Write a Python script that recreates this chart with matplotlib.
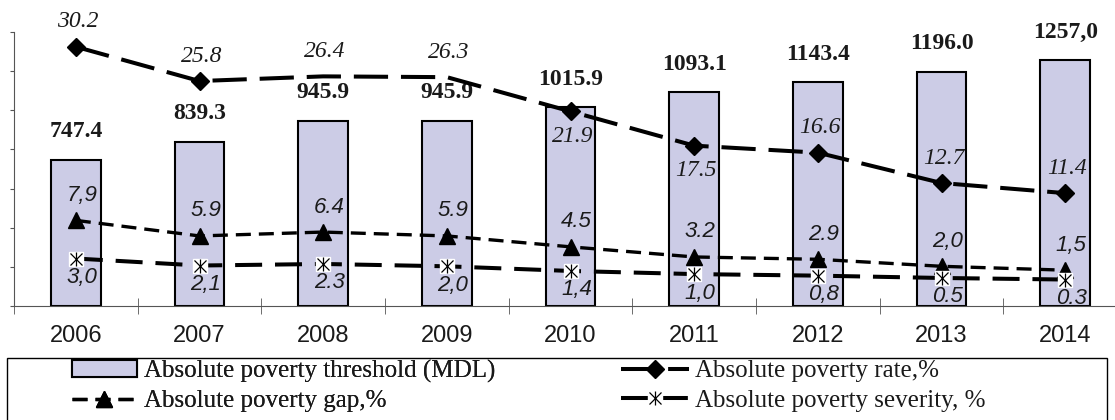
import matplotlib
matplotlib.use("Agg")
import matplotlib.pyplot as plt
from matplotlib.patches import Rectangle
from matplotlib.legend_handler import HandlerTuple

# Datos
years = ['2006', '2007', '2008', '2009', '2010', '2011', '2012', '2013', '2014']
threshold = [747.4, 839.3, 945.9, 945.9, 1015.9, 1093.1, 1143.4, 1196.0, 1257.0]
threshold_labels = ['747.4', '839.3', '945.9', '945.9', '1015.9', '1093.1', '1143.4', '1196.0', '1257,0']
rate = [30.2, 25.8, 26.4, 26.3, 21.9, 17.5, 16.6, 12.7, 11.4]
rate_labels = ['30.2', '25.8', '26.4', '26.3', '21.9', '17.5', '16.6', '12.7', '11.4']
gap = [7.9, 5.9, 6.4, 5.9, 4.5, 3.2, 2.9, 2.0, 1.5]
gap_labels = ['7,9', '5.9', '6.4', '5.9', '4.5', '3.2', '2.9', '2,0', '1,5']
severity = [3.0, 2.1, 2.3, 2.0, 1.4, 1.0, 0.8, 0.5, 0.3]
severity_labels = ['3,0', '2,1', '2.3', '2,0', '1,4', '1,0', '0,8', '0.5', '0.3']
rate_below = [False, False, False, False, True, True, False, False, False]

W, H = 1115, 420
serif = 'Liberation Serif'
sans = 'Liberation Sans'
txt = '#1a1a1a'

fig = plt.figure(figsize=(W / 100, H / 100), dpi=100)
ax = fig.add_axes([14 / W, 114 / H, (1127 - 14) / W, (306 - 32) / H])
x = list(range(len(years)))

# Barras (eje izquierdo)
bars = ax.bar(x, threshold, width=0.4, color='#CCCCE6', edgecolor='black', linewidth=1.5, zorder=2)
ax.set_ylim(0, 1400)
ax.set_xlim(-0.5, len(years) - 0.5)
ax.set_yticks(range(0, 1401, 200))
ax.tick_params(axis='y', length=3, direction='out', labelleft=False, color='#555555')
ax.set_xticks(x)
ax.set_xticklabels(years, fontfamily=sans, fontsize=17, color=txt)
ax.set_xticks([i - 0.5 for i in range(len(years) + 1)], minor=True)
ax.tick_params(axis='x', which='major', length=0, pad=14)
ax.tick_params(axis='x', which='minor', length=12, direction='inout', color='#555555')
for s in ['top', 'right']:
    ax.spines[s].set_visible(False)
ax.spines['left'].set_color('#555555')
ax.spines['bottom'].set_color('#555555')

for xi, v, lab in zip(x, threshold, threshold_labels):
    ax.annotate(lab, (xi, v), xytext=(0, 28), textcoords='offset pixels', ha='center', va='center',
                fontfamily=serif, fontweight='bold', fontsize=17, color=txt)

# Lineas (eje secundario)
ax2 = ax.twinx()
ax2.set_ylim(-3.1, 32.1)
ax2.set_yticks([])
for s in ax2.spines.values():
    s.set_visible(False)

l_rate, = ax2.plot(x, rate, color='black', lw=2.9, linestyle=(0, (8.5, 3.2)), marker='D', markersize=9,
                   markevery=[0, 1, 4, 5, 6, 7, 8], zorder=3)
l_gap, = ax2.plot(x, gap, color='black', lw=2.4, linestyle=(0, (4.5, 2.4)), marker='^', markersize=11, zorder=3)
l_sev, = ax2.plot(x, severity, color='black', lw=2.9, linestyle=(0, (6.7, 3.2)), zorder=3)
m_sq, = ax2.plot(x, severity, linestyle='none', marker='s', markersize=10, markerfacecolor='white',
                 markeredgecolor='white', zorder=4)
m_v, = ax2.plot(x, severity, linestyle='none', marker='|', markersize=10, markeredgewidth=0.9,
                color='black', zorder=5)
m_x, = ax2.plot(x, severity, linestyle='none', marker='x', markersize=8, markeredgewidth=0.9,
                color='black', zorder=5)

for xi, v, lab, below in zip(x, rate, rate_labels, rate_below):
    dy = -25 if below else 25
    ax2.annotate(lab, (xi, v), xytext=(2, dy), textcoords='offset pixels', ha='center', va='center',
                 fontfamily=serif, fontstyle='italic', fontsize=17, color=txt)
for xi, v, lab in zip(x, gap, gap_labels):
    ax2.annotate(lab, (xi, v), xytext=(6, 25), textcoords='offset pixels', ha='center', va='center',
                 fontfamily=sans, fontstyle='italic', fontsize=16, color=txt)
for xi, v, lab in zip(x, severity, severity_labels):
    ax2.annotate(lab, (xi, v), xytext=(6, -19), textcoords='offset pixels', ha='center', va='center',
                 fontfamily=sans, fontstyle='italic', fontsize=16, color=txt)

# Leyenda
fig.patches.append(Rectangle((7 / W, -0.05), 1100 / W, (420 - 358) / H + 0.05, transform=fig.transFigure,
                             fill=False, edgecolor='black', linewidth=1))
leg_kw = dict(frameon=False, loc='center left', prop={'family': serif, 'size': 18},
              labelspacing=0.29, borderpad=0, labelcolor=txt)
leg1 = fig.legend([bars, l_gap], ['Absolute poverty threshold (MDL)', 'Absolute poverty gap,%'],
                  bbox_to_anchor=(59 / W, (420 - 386) / H), handlelength=2.6, handletextpad=0.32, **leg_kw)
fig.add_artist(leg1)
fig.legend([l_rate, (l_sev, m_sq, m_v, m_x)], ['Absolute poverty rate,%', 'Absolute poverty severity, %'],
           bbox_to_anchor=(608 / W, (420 - 386) / H), handlelength=2.75, handletextpad=0.22,
           handler_map={tuple: HandlerTuple(ndivide=1)}, **leg_kw)

plt.savefig('out.png', dpi=100)
